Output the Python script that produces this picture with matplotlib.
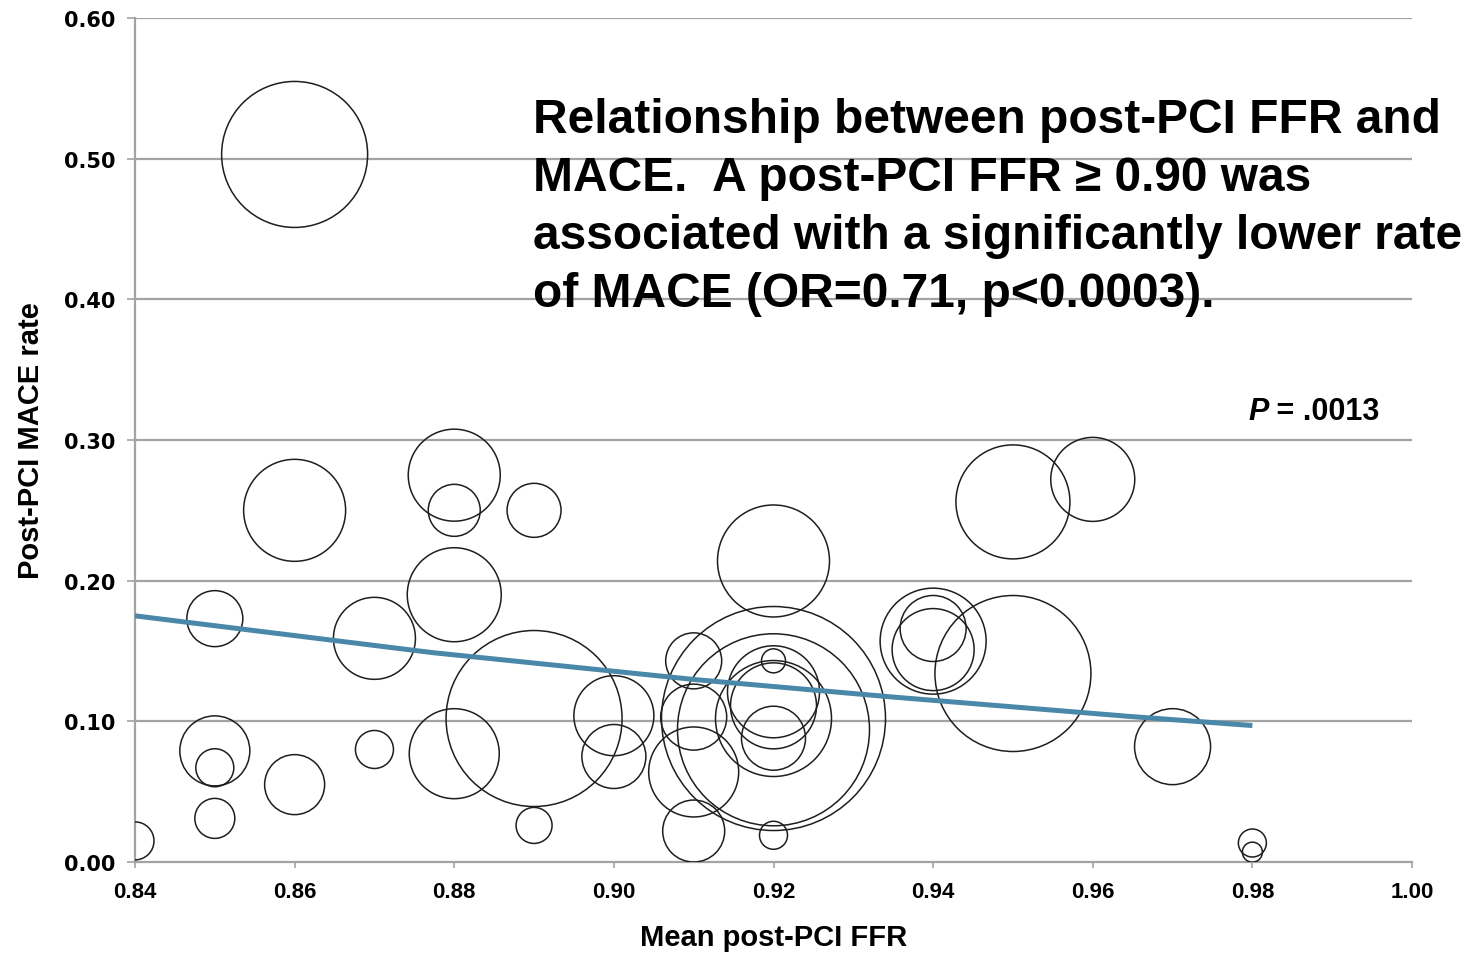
import matplotlib
matplotlib.use("Agg")
import matplotlib.pyplot as plt
import numpy as np

plt.rcParams['font.family'] = ['Liberation Sans', 'DejaVu Sans']

# ---- data ----
bubble_x = [0.84,
            0.85, 0.85, 0.85, 0.85,
            0.86, 0.86, 0.86,
            0.87, 0.87,
            0.88, 0.88, 0.88, 0.88,
            0.89, 0.89, 0.89,
            0.90, 0.90,
            0.91, 0.91, 0.91, 0.91,
            0.92, 0.92, 0.92, 0.92, 0.92, 0.92, 0.92, 0.92, 0.92,
            0.94, 0.94, 0.94,
            0.95, 0.95,
            0.96,
            0.97,
            0.98, 0.98]
bubble_y = [0.015,
            0.173, 0.079, 0.067, 0.031,
            0.503, 0.250, 0.055,
            0.159, 0.080,
            0.275, 0.250, 0.190, 0.077,
            0.250, 0.102, 0.026,
            0.104, 0.075,
            0.143, 0.103, 0.064, 0.022,
            0.214, 0.102, 0.094, 0.102, 0.121, 0.111, 0.088, 0.143, 0.019,
            0.157, 0.151, 0.166,
            0.256, 0.134,
            0.272,
            0.082,
            0.0135, 0.007]
# relative bubble size (radius units)
bubble_size = [19,
               28, 35, 19, 20,
               73, 51, 30,
               41, 19,
               46, 26, 47, 45,
               27, 88, 18,
               40, 32,
               28, 33, 45, 31,
               56, 112, 96, 58, 46, 43, 32, 12, 14,
               53, 41, 33,
               57, 78,
               42,
               38,
               14, 10]

fit_x = [0.84, 0.877, 0.9095, 0.9334, 0.9634, 0.98]
fit_y = [0.175, 0.149, 0.130, 0.118, 0.104, 0.097]

x_ticks = [0.84, 0.86, 0.88, 0.90, 0.92, 0.94, 0.96, 0.98, 1.00]
y_ticks = [0.00, 0.10, 0.20, 0.30, 0.40, 0.50, 0.60]

note_text = ("Relationship between post-PCI FFR and\n"
             "MACE.  A post-PCI FFR \u2265 0.90 was\n"
             "associated with a significantly lower rate\n"
             "of MACE (OR=0.71, p<0.0003).")

# ---- figure ----
W, H, DPI = 1473, 954, 100
fig = plt.figure(figsize=(W / DPI, H / DPI), dpi=DPI)
ax = fig.add_axes([135 / W, 1 - 863 / H, (1412 - 135) / W, (863 - 19) / H])

ax.set_xlim(0.84, 1.00)
ax.set_ylim(0.0, 0.60)

grid_c = '#a3a3a3'
for yv in y_ticks[1:]:
    ax.axhline(yv, color=grid_c, lw=1.6, zorder=1)

px_per_pt = DPI / 72.0
sizes = [(2 * r / px_per_pt) ** 2 for r in bubble_size]
ax.scatter(bubble_x, bubble_y, s=sizes, facecolors='none', edgecolors='#1e1e1e',
           linewidths=1.1, zorder=3)

xs = np.linspace(fit_x[0], fit_x[-1], 200)
ax.plot(xs, np.interp(xs, fit_x, fit_y), color='#4a88a9', lw=3.6,
        solid_capstyle='butt', zorder=4)

for side in ['top', 'right']:
    ax.spines[side].set_visible(False)
for side in ['left', 'bottom']:
    ax.spines[side].set_color(grid_c)
    ax.spines[side].set_linewidth(1.6)

ax.set_xticks(x_ticks)
ax.set_xticklabels([f"{v:.2f}" for v in x_ticks])
ax.set_yticks(y_ticks)
ax.set_yticklabels([f"{v:.2f}" for v in y_ticks])
ax.tick_params(axis='both', colors=grid_c, labelcolor='black', width=1.2,
               labelsize=15, direction='out')
ax.tick_params(axis='y', length=6, pad=8)
ax.tick_params(axis='x', length=4, pad=10, labelsize=16)
for lab in ax.get_xticklabels():
    lab.set_fontweight('bold')
for lab in ax.get_yticklabels():
    lab.set_fontweight('bold')
    lab.set_family('DejaVu Sans')

ax.set_xlabel("Mean post-PCI FFR", fontsize=21, fontweight='bold', labelpad=15)
ax.set_ylabel("Post-PCI MACE rate", fontsize=21, fontweight='bold', labelpad=14)

fig.text(533 / W, 1 - 98 / H, note_text, fontsize=34.5, fontweight='bold',
         ha='left', va='top', linespacing=1.37, color='black')

t = fig.text(1248 / W, 1 - 420 / H, "P", fontsize=22, fontweight='bold',
             fontstyle='italic', ha='left', va='baseline')
ax.annotate(" = .0013", xy=(1, 0), xycoords=t, fontsize=22, fontweight='bold',
            ha='left', va='bottom', annotation_clip=False)

fig.savefig("out.png", dpi=DPI)
